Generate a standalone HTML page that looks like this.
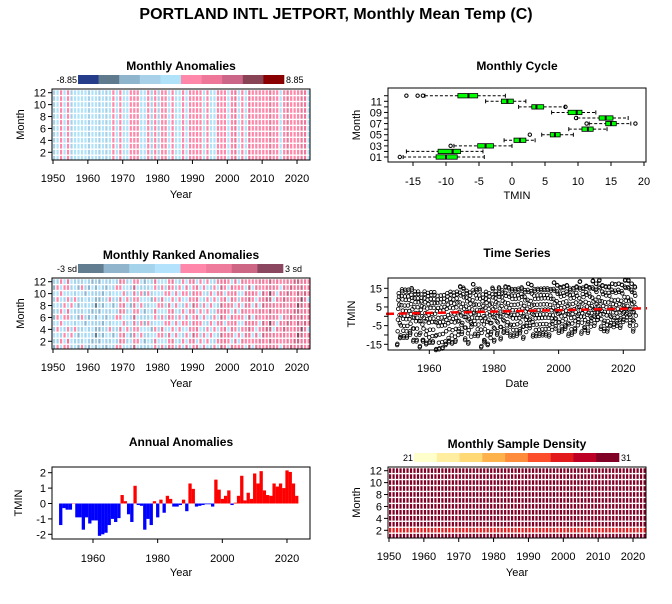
<!DOCTYPE html>
<html><head><meta charset="utf-8"><style>
body{margin:0;background:#fff}
svg{display:block;font-family:"Liberation Sans",sans-serif}
</style></head><body>
<svg id="c" width="672" height="604" viewBox="0 0 672 604" xmlns="http://www.w3.org/2000/svg">
<rect width="672" height="604" fill="#fff"/>
<text x="336" y="19" text-anchor="middle" font-size="16" font-weight="bold">PORTLAND INTL JETPORT, Monthly Mean Temp (C)</text>
</svg>
<script>
// ---- data ----
const years = [];
for (let y = 1950; y <= 2023; y++) years.push(y);
const annualAnom = [-1.4,-0.3,-0.4,-0.4,0.02,-0.9,-0.9,-1.7,-0.9,-1.3,-1.1,-1.1,-2.1,-2.0,-1.9,-1.4,-1.0,-1.2,-0.95,
 0.55,0.15,-0.7,-1.2,1.15,-0.1,-0.15,-1.7,-1.0,-1.4,0.15,-0.9,0.25,-0.6,0.5,0.3,-0.2,-0.2,-0.1,0.25,-0.5,
 1.3,0.95,-0.2,-0.15,-0.1,-0.05,-0.05,-0.2,1.55,0.9,0.3,0.5,0.85,-0.1,0.05,0.5,1.8,0.2,0.7,0.3,
 1.95,1.3,2.1,0.85,0.55,0.5,1.3,1.1,1.3,1.0,2.15,2.05,1.3,0.5];
const months = [1,2,3,4,5,6,7,8,9,10,11,12];
const boxQ1 = [-11.5,-11.2,-5.2,0.3,5.8,10.6,14.2,13.2,8.5,3.0,-1.6,-8.2];
const boxMed = [-10,-9,-4,1.2,6.5,11.5,15,14.2,9.8,3.7,-0.7,-6.6];
const boxQ3 = [-8.3,-7.8,-2.8,2.1,7.3,12.3,15.8,15.3,10.6,4.8,0.2,-5.2];
const whiskLo = [-16.5,-16,-8.8,-1.2,4.5,8.6,11.7,9.9,6,1,-4,-13.2];
const whiskHi = [-4.2,-4.4,0,3.5,9.3,14.4,18,17.6,12.7,8,2.1,-1];
const outliers = [[-17],[],[-9.3],[],[2.7],[],[11.3,18.7],[9.7],[],[8.1],[],[-16,-14.3,-13.5]];
const sampleDays = [31,28,31,30,31,30,31,31,30,31,30,31];
const trendStart = 1.3, trendEnd = 4.3;
const anomColors = ["#253C8A","#5F7A8C","#8FB5CC","#A8D0E8","#B0E2FA","#FF88AA","#EE7799","#CC6688","#884455","#880000"];
const rankColors = ["#627D90","#8FB4CC","#A6D3EC","#B2E2FC","#FF88AA","#EE7A9C","#CC6684","#8B4660"];
const densColors = ["#FFFFCC","#FFEDA0","#FED976","#FEB24C","#FD8D3C","#FC4E2A","#E31A1C","#BD0026","#800026"];

const svg = document.getElementById('c');
const NS = "http://www.w3.org/2000/svg";
function mk(tag, attrs, parent){const e=document.createElementNS(NS,tag);for(const k in attrs)e.setAttribute(k,attrs[k]);(parent||svg).appendChild(e);return e;}
function txt(x,y,s,size,anchor,parent,bold){const t=mk('text',{x:x,y:y,'font-size':size,'text-anchor':anchor||'middle'},parent);if(bold)t.setAttribute('font-weight','bold');t.textContent=s;return t;}

function heatPanel(name,title,y0,cols,lowLab,highLab,cellColor,cbX0,cbX1,xsA,xsB){
  const g=mk('g',{});
  
  
  const x0=xsA-1,x1=xsA+258-1;
  const yb=y0, ye=y0+71;
  const t=txt((x0+x1)/2,y0-19,title,12,'middle',g,true);
  
  
  const sw=(cbX1-cbX0)/cols.length;
  cols.forEach((c,i)=>{const r=mk('rect',{x:cbX0+i*sw,y:y0-14,width:sw+0.3,height:9,fill:c},g);
    
    });
  const l1=txt(cbX0-1,y0-6,lowLab,9,'end',g);  
  const l2=txt(cbX1+2,y0-6,highLab,9,'start',g);  
  const xs=yr=>xsA+(yr-1950)*xsB;
  const ys=m=>yb+3.7+(12-m)*5.96;
  years.forEach((yr,i)=>{months.forEach((m)=>{
    const c=cellColor(i,m-1); if(!c)return;
    const r=mk('rect',{x:xs(yr),y:ys(m)-2.4,width:2.2,height:4.6,fill:c},g);
    
    
  });});
  mk('rect',{x:x0,y:yb,width:x1-x0,height:ye-yb,fill:'none',stroke:'#000'},g);
  for(let yr=1950;yr<=2020;yr+=10){const x=xs(yr);mk('line',{x1:x,x2:x,y1:ye,y2:ye+4,stroke:'#000'},g);
    const tl=txt(x,ye+22,String(yr),11,'middle',g);  }
  const xl=txt((x0+x1)/2,ye+38,'Year',11,'middle',g);  
  for(let m=2;m<=12;m+=2){const y=ys(m);mk('line',{x1:x0-4,x2:x0,y1:y,y2:y,stroke:'#000'},g);
    const tl=txt(x0-6,y+4,String(m),11,'end',g);  }
  const yl=txt(0,0,'Month',11,'middle',g); yl.setAttribute('transform',`translate(${x0-28},${(yb+ye)/2}) rotate(-90)`);
   
}
function anomIdx(v,lo,step,n){let k=Math.floor((v-lo)/step);return Math.max(0,Math.min(n-1,k));}
heatPanel('monthly-anomalies-panel','Monthly Anomalies',89,anomColors,'-8.85','8.85',
  (i,m)=>anomColors[anomIdx(annualAnom[i]+(((i*7+m*5)%5)-2)*0.6,-8.85,1.77,10)],78,284,53,3.486);
heatPanel('ranked-anomalies-panel','Monthly Ranked Anomalies',278,rankColors,'-3 sd','3 sd',
  (i,m)=>rankColors[anomIdx(annualAnom[i]+(((i*3+m*7)%5)-2)*0.5,-4,1,8)],78,283,53,3.486);
heatPanel('sample-density-panel','Monthly Sample Density',467,densColors,'21','31',
  (i,m)=>densColors[Math.max(0,Math.min(8,sampleDays[m]-22))],414,619,389,3.486);

// ---- Monthly cycle boxplot ----
(function(){
  const g=mk('g',{});
  
  
  const x0=388,x1=646,y0=88,y1=162;
  const xs=v=>413+(v+15)*6.6, ys=m=>157-(m-1)*5.57;
  const t=txt(517,70,'Monthly Cycle',12,'middle',g,true);  
  months.forEach((m,i)=>{
    const y=ys(m);
    const b=mk('g',{},g);
    
    
    mk('line',{x1:xs(whiskLo[i]),x2:xs(boxQ1[i]),y1:y,y2:y,stroke:'#000','stroke-dasharray':'3,2'},b);
    mk('line',{x1:xs(boxQ3[i]),x2:xs(whiskHi[i]),y1:y,y2:y,stroke:'#000','stroke-dasharray':'3,2'},b);
    mk('line',{x1:xs(whiskLo[i]),x2:xs(whiskLo[i]),y1:y-2,y2:y+2,stroke:'#000'},b);
    mk('line',{x1:xs(whiskHi[i]),x2:xs(whiskHi[i]),y1:y-2,y2:y+2,stroke:'#000'},b);
    mk('rect',{x:xs(boxQ1[i]),y:y-2.2,width:xs(boxQ3[i])-xs(boxQ1[i]),height:4.4,fill:'#00FF00',stroke:'#000','stroke-width':0.8},b);
    mk('line',{x1:xs(boxMed[i]),x2:xs(boxMed[i]),y1:y-2.2,y2:y+2.2,stroke:'#000','stroke-width':2},b);
    outliers[i].forEach(v=>mk('circle',{cx:xs(v),cy:y,r:1.7,fill:'none',stroke:'#000'},b));
  });
  mk('rect',{x:x0,y:y0,width:x1-x0,height:y1-y0,fill:'none',stroke:'#000'},g);
  for(let v=-15;v<=20;v+=5){const x=xs(v);mk('line',{x1:x,x2:x,y1:y1,y2:y1+4,stroke:'#000'},g);
    const tl=txt(x,185,String(v),11,'middle',g);  }
  const xl=txt(517,199,'TMIN',11,'middle',g);  
  months.forEach(m=>{const y=ys(m);mk('line',{x1:x0-4,x2:x0,y1:y,y2:y,stroke:'#000'},g);
    if(m%2===1){const tl=txt(x0-6,y+4,(m<10?'0':'')+m,11,'end',g);  }});
  const yl=txt(0,0,'Month',11,'middle',g); yl.setAttribute('transform',`translate(360,125) rotate(-90)`);
   
})();

// ---- Time series ----
(function(){
  const g=mk('g',{});
  
  
  const x0=388,x1=645,y0=278,y1=350;
  const xs=t=>429.3+(t-1960)*3.233, ys=v=>288.3+(15-v)*1.867;
  const t=txt(517,257,'Time Series',12,'middle',g,true);  
  years.forEach((yr,i)=>months.forEach((m,j)=>{
    const v=boxMed[j]+annualAnom[i]*(boxQ3[j]-boxQ1[j])*1.2;
    const c=mk('circle',{cx:xs(yr+(j+0.5)/12),cy:ys(v),r:1.8,fill:'none',stroke:'#000','stroke-width':0.8},g);
    
    
  }));
  const tr=mk('line',{x1:x0-2,x2:x1+2,y1:ys(trendStart),y2:ys(trendEnd),stroke:'#f00','stroke-width':2.5,'stroke-dasharray':'8,5'},g);
  
  
  mk('rect',{x:x0,y:y0,width:x1-x0,height:y1-y0,fill:'none',stroke:'#000'},g);
  [1960,1980,2000,2020].forEach(yr=>{const x=xs(yr);mk('line',{x1:x,x2:x,y1:y1,y2:y1+4,stroke:'#000'},g);
    const tl=txt(x,372,String(yr),11,'middle',g);  });
  const xl=txt(517,387,'Date',11,'middle',g);  
  for(let v=-15;v<=15;v+=5){const y=ys(v);mk('line',{x1:x0-4,x2:x0,y1:y,y2:y,stroke:'#000'},g);
    if((v+15)%10===0){const tl=txt(x0-6,y+4,String(v),11,'end',g);  }}
  const yl=txt(0,0,'TMIN',11,'middle',g); yl.setAttribute('transform',`translate(355,314) rotate(-90)`);
   
})();

// ---- Annual anomalies ----
(function(){
  const g=mk('g',{});
  
  
  const x0=52,x1=310,y0=467,y1=539;
  const xs=t=>93+(t-1960)*3.233, ys=v=>503.5-v*15.4;
  const t=txt(181,446,'Annual Anomalies',12,'middle',g,true);  
  years.forEach((yr,i)=>{const v=annualAnom[i];
    const r=mk('rect',{x:xs(yr)-1.6,y:Math.min(ys(v),ys(0)),width:3.3,height:Math.abs(ys(v)-ys(0)),fill:v>=0?'#f00':'#00f'},g);
    
    });
  mk('rect',{x:x0,y:y0,width:x1-x0,height:y1-y0,fill:'none',stroke:'#000'},g);
  [1960,1980,2000,2020].forEach(yr=>{const x=xs(yr);mk('line',{x1:x,x2:x,y1:y1,y2:y1+4,stroke:'#000'},g);
    const tl=txt(x,562,String(yr),11,'middle',g);  });
  const xl=txt(181,576,'Year',11,'middle',g);  
  for(let v=-2;v<=2;v++){const y=ys(v);mk('line',{x1:x0-4,x2:x0,y1:y,y2:y,stroke:'#000'},g);
    const tl=txt(x0-6,y+4,String(v),11,'end',g);  }
  const yl=txt(0,0,'TMIN',11,'middle',g); yl.setAttribute('transform',`translate(22,503) rotate(-90)`);
   
})();
</script>
</body></html>
